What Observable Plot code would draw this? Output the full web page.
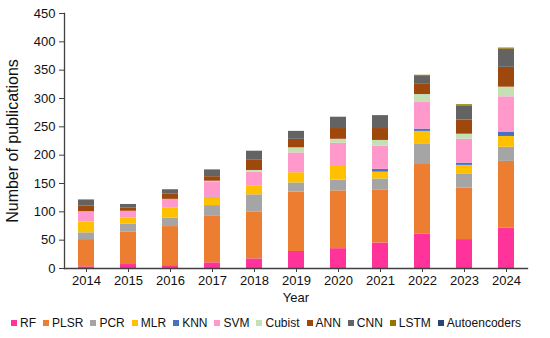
<!DOCTYPE html>
<html>
<head>
<meta charset="utf-8">
<script src="https://cdn.jsdelivr.net/npm/d3@7"></script>
<script src="https://cdn.jsdelivr.net/npm/@observablehq/plot@0.6"></script>
<style>
  html, body { margin: 0; padding: 0; background: #fff; }
  body { width: 550px; height: 338px; overflow: hidden; font-family: "Liberation Sans", Arial, sans-serif; }
  #legend { display: flex; justify-content: center; align-items: center; gap: 7px; font-size: 12px; color: #111; margin-top: 11px; padding-right: 18px; }
  #legend .item { display: flex; align-items: center; }
  #legend .sw { width: 6px; height: 6px; margin-right: 3px; }
</style>
</head>
<body>
<div id="chart"></div>
<div id="legend"></div>
<script>
const years = ["2014","2015","2016","2017","2018","2019","2020","2021","2022","2023","2024"];
const seriesNames = ["RF","PLSR","PCR","MLR","KNN","SVM","Cubist","ANN","CNN","LSTM","Autoencoders"];
const seriesColors = ["#FF3399","#ED7D31","#A5A5A5","#FFC000","#4472C4","#FF99CC","#C5E0B4","#9E480E","#636363","#997300","#264478"];

const RF     = [3, 7, 5, 10, 17, 30, 35, 45, 61, 51, 71];
const PLSR   = [48, 57, 69, 82, 83, 105, 102, 93, 124, 91, 118];
const PCR    = [12, 14, 15, 19, 30, 16, 19, 20, 35, 24, 25];
const MLR    = [19, 11, 18, 14, 16, 18, 24, 12, 22, 16, 19];
const KNN    = [0, 0, 0, 1, 0, 0, 0, 5, 4, 4, 7];
const SVM    = [17, 12, 15, 27, 24, 35, 41, 41, 48, 42, 63];
const Cubist = [1, 0, 0, 1, 3, 9, 7, 10, 13, 9, 17];
const ANN    = [10, 6, 9, 8, 18, 15, 19, 21, 18, 25, 35];
const CNN    = [11, 6, 8, 12, 16, 14, 20, 22, 14, 25, 32];
const LSTM   = [0, 0, 0, 0, 0, 0, 0, 0, 2, 2, 2];
const Autoencoders = [0, 0, 0, 0, 0, 0, 0, 1, 0, 0, 0];

const yTicks = [0, 50, 100, 150, 200, 250, 300, 350, 400, 450];

const valuesBySeries = {RF, PLSR, PCR, MLR, KNN, SVM, Cubist, ANN, CNN, LSTM, Autoencoders};
const data = [];
seriesNames.forEach(s => {
  valuesBySeries[s].forEach((v, i) => data.push({year: years[i], series: s, value: v}));
});

const axisColor = "#404040";
const chart = Plot.plot({
  width: 550,
  height: 305,
  marginLeft: 64,
  marginRight: 23,
  marginTop: 13,
  marginBottom: 37,
  style: {fontFamily: "Liberation Sans, Arial, sans-serif", fontSize: "13px", color: "#111", background: "#fff"},
  x: {domain: years, paddingInner: 0.62, paddingOuter: 0.31},
  y: {domain: [0, 450]},
  color: {domain: seriesNames, range: seriesColors},
  marks: [
    Plot.barY(data, {x: "year", y: "value", fill: "series", order: seriesNames}),
    Plot.frame({anchor: "left", stroke: axisColor, strokeWidth: 1.3}),
    Plot.frame({anchor: "bottom", stroke: axisColor, strokeWidth: 1.3}),
    Plot.axisY({ticks: yTicks, tickSize: 5, tickPadding: 4, stroke: axisColor, label: null, fontSize: 13}),
    Plot.axisX({tickSize: 4, tickPadding: 3, stroke: axisColor, label: null, fontSize: 13}),
    Plot.text(["Number of publications"], {frameAnchor: "left", rotate: -90, dx: -52, textAnchor: "middle", lineAnchor: "middle", fontSize: 16, fill: "#111"}),
    Plot.text(["Year"], {frameAnchor: "bottom", dy: 29, textAnchor: "middle", lineAnchor: "middle", fontSize: 13, fill: "#111"})
  ]
});
document.getElementById("chart").appendChild(chart);

const legend = document.getElementById("legend");
seriesNames.forEach((s, i) => {
  const it = document.createElement("div");
  it.className = "item";
  const sw = document.createElement("span");
  sw.className = "sw";
  sw.style.background = seriesColors[i];
  const tx = document.createElement("span");
  tx.textContent = s;
  it.appendChild(sw); it.appendChild(tx);
  legend.appendChild(it);
});
</script>
</body>
</html>
